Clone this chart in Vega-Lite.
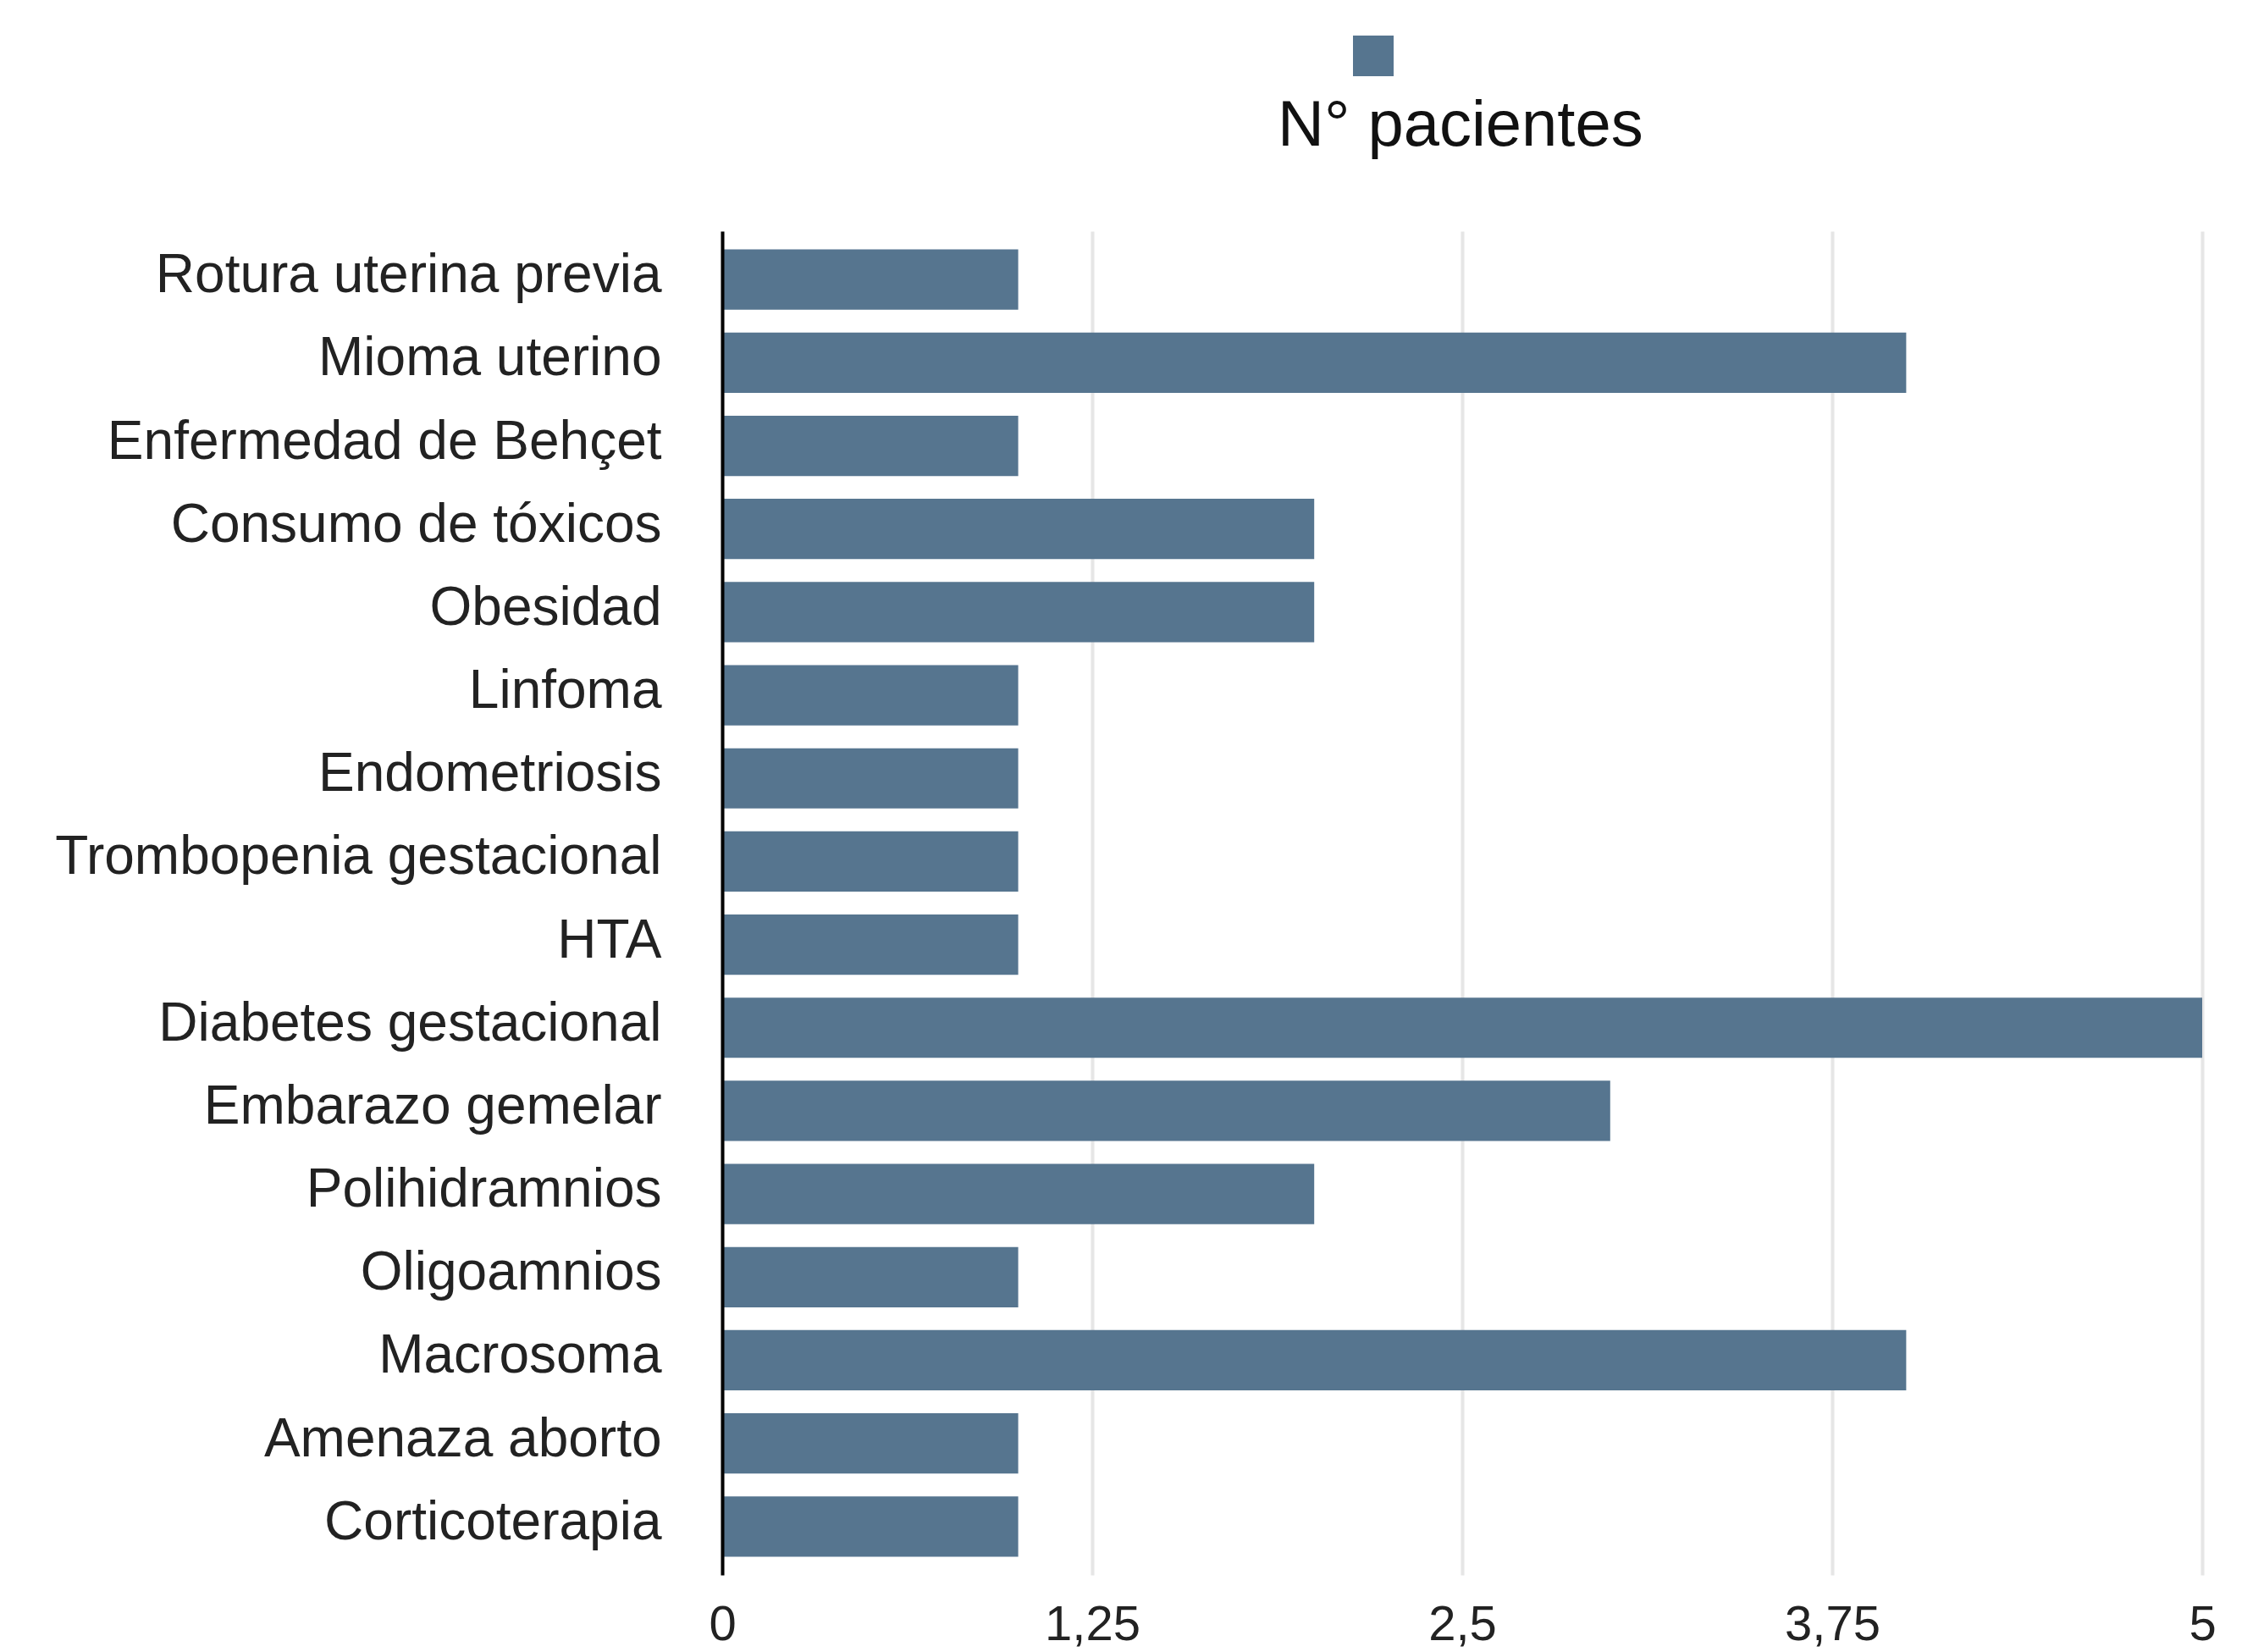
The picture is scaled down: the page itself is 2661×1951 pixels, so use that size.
{
  "$schema": "https://vega.github.io/schema/vega-lite/v6.json",
  "width": 1748,
  "height": 1587,
  "autosize": {"type": "none"},
  "padding": {"left": 853, "top": 273, "right": 60, "bottom": 91},
  "background": "white",
  "config": {
    "view": {"stroke": null},
    "font": "Liberation Sans"
  },
  "data": {
    "values": [
      {"antecedente": "Rotura uterina previa", "pacientes": 1, "serie": "N° pacientes"},
      {"antecedente": "Mioma uterino", "pacientes": 4, "serie": "N° pacientes"},
      {"antecedente": "Enfermedad de Behçet", "pacientes": 1, "serie": "N° pacientes"},
      {"antecedente": "Consumo de tóxicos", "pacientes": 2, "serie": "N° pacientes"},
      {"antecedente": "Obesidad", "pacientes": 2, "serie": "N° pacientes"},
      {"antecedente": "Linfoma", "pacientes": 1, "serie": "N° pacientes"},
      {"antecedente": "Endometriosis", "pacientes": 1, "serie": "N° pacientes"},
      {"antecedente": "Trombopenia gestacional", "pacientes": 1, "serie": "N° pacientes"},
      {"antecedente": "HTA", "pacientes": 1, "serie": "N° pacientes"},
      {"antecedente": "Diabetes gestacional", "pacientes": 5, "serie": "N° pacientes"},
      {"antecedente": "Embarazo gemelar", "pacientes": 3, "serie": "N° pacientes"},
      {"antecedente": "Polihidramnios", "pacientes": 2, "serie": "N° pacientes"},
      {"antecedente": "Oligoamnios", "pacientes": 1, "serie": "N° pacientes"},
      {"antecedente": "Macrosoma", "pacientes": 4, "serie": "N° pacientes"},
      {"antecedente": "Amenaza aborto", "pacientes": 1, "serie": "N° pacientes"},
      {"antecedente": "Corticoterapia", "pacientes": 1, "serie": "N° pacientes"}
    ]
  },
  "mark": {"type": "bar"},
  "encoding": {
    "y": {
      "field": "antecedente",
      "type": "nominal",
      "sort": null,
      "scale": {"paddingInner": 0.275, "paddingOuter": 0.22},
      "axis": {
        "title": null,
        "labelFontSize": 64,
        "labelColor": "#222222",
        "labelPadding": 72,
        "labelOffset": -4,
        "labelLimit": 1000,
        "ticks": false,
        "tickSize": 0,
        "domain": true,
        "domainColor": "#000000",
        "domainWidth": 4,
        "grid": false,
        "zindex": 1
      }
    },
    "x": {
      "field": "pacientes",
      "type": "quantitative",
      "scale": {"domain": [0, 5], "nice": false},
      "axis": {
        "title": null,
        "values": [0, 1.25, 2.5, 3.75, 5],
        "labelExpr": "replace(toString(datum.value), '.', ',')",
        "labelFontSize": 58,
        "labelColor": "#222222",
        "labelPadding": 30,
        "labelFlush": false,
        "domain": false,
        "ticks": false,
        "tickSize": 0,
        "grid": true,
        "gridColor": "#e6e6e6",
        "gridWidth": 4,
        "zindex": 0
      }
    },
    "color": {
      "field": "serie",
      "type": "nominal",
      "scale": {"range": ["#56758F"]},
      "legend": {
        "orient": "none",
        "legendX": 656,
        "legendY": -231,
        "title": "N° pacientes",
        "titleOrient": "bottom",
        "titleFontSize": 76,
        "titleFontWeight": "normal",
        "titleColor": "#111111",
        "titlePadding": 22,
        "titleLimit": 2000,
        "symbolType": "square",
        "symbolSize": 2304,
        "symbolOffset": 89,
        "symbolStrokeWidth": 0,
        "labelExpr": "''",
        "labelFontSize": 1,
        "padding": 0
      }
    }
  }
}
